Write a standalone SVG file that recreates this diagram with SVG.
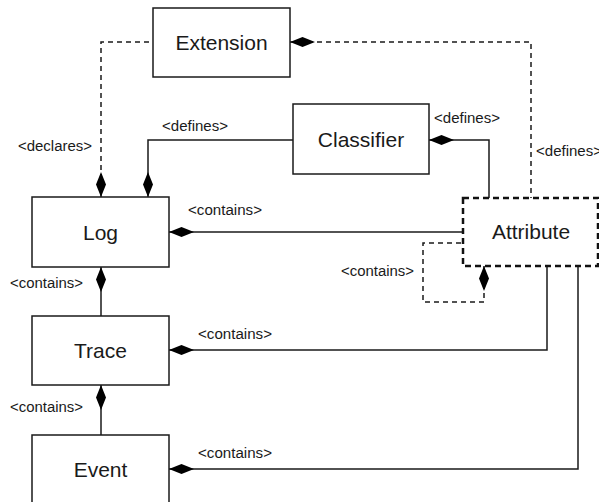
<svg xmlns="http://www.w3.org/2000/svg" width="599" height="502" viewBox="0 0 599 502">
  <style>
    .box { fill: #ffffff; stroke: #1a1a1a; stroke-width: 1.5; }
    .box-dashed { fill: #ffffff; stroke: #111111; stroke-width: 2.5; stroke-dasharray: 6 4; }
    .name { font-family: "Liberation Sans", Arial, sans-serif; font-size: 21px; fill: #1a1a1a; text-anchor: middle; }
    .lbl { font-family: "Liberation Sans", Arial, sans-serif; font-size: 14px; fill: #1a1a1a; }
    .link { fill: none; stroke: #1a1a1a; stroke-width: 1.5; }
    .dashed { stroke-dasharray: 5 4; }
  </style>
  <defs>
    <!-- filled composition diamond placed at the owning end of a connector -->
    <marker id="diamond" markerUnits="userSpaceOnUse" markerWidth="28" markerHeight="12" viewBox="0 -6 26 12" refX="0" refY="0" orient="auto">
      <path d="M0,0 L12.5,-5 L25,0 L12.5,5 Z" fill="#000000" stroke="none"/>
    </marker>
  </defs>

  <g id="connectors">
    <path class="link dashed" d="M101,197 V42 H153" marker-start="url(#diamond)"/>
    <path class="link" d="M148,197 V140 H293" marker-start="url(#diamond)"/>
    <path class="link dashed" d="M290,42 H531 V198" marker-start="url(#diamond)"/>
    <path class="link" d="M429,140 H489 V198" marker-start="url(#diamond)"/>
    <path class="link" d="M169,232 H463" marker-start="url(#diamond)"/>
    <path class="link dashed" d="M484,266 V302 H423 V243 H463" marker-start="url(#diamond)"/>
    <path class="link" d="M169,350 H547 V266" marker-start="url(#diamond)"/>
    <path class="link" d="M169,469 H578 V266" marker-start="url(#diamond)"/>
    <path class="link" d="M101,267 V316" marker-start="url(#diamond)"/>
    <path class="link" d="M101,385 V435" marker-start="url(#diamond)"/>

    <text class="lbl" x="18" y="151" textLength="74" lengthAdjust="spacingAndGlyphs">&lt;declares&gt;</text>
    <text class="lbl" x="162" y="131" textLength="66" lengthAdjust="spacingAndGlyphs">&lt;defines&gt;</text>
    <text class="lbl" x="434" y="123" textLength="66" lengthAdjust="spacingAndGlyphs">&lt;defines&gt;</text>
    <text class="lbl" x="536" y="156" textLength="66" lengthAdjust="spacingAndGlyphs">&lt;defines&gt;</text>
    <text class="lbl" x="188" y="215" textLength="74" lengthAdjust="spacingAndGlyphs">&lt;contains&gt;</text>
    <text class="lbl" x="10" y="288" textLength="73" lengthAdjust="spacingAndGlyphs">&lt;contains&gt;</text>
    <text class="lbl" x="341" y="276" textLength="73" lengthAdjust="spacingAndGlyphs">&lt;contains&gt;</text>
    <text class="lbl" x="198" y="339" textLength="74" lengthAdjust="spacingAndGlyphs">&lt;contains&gt;</text>
    <text class="lbl" x="10" y="412" textLength="73" lengthAdjust="spacingAndGlyphs">&lt;contains&gt;</text>
    <text class="lbl" x="198" y="458" textLength="74" lengthAdjust="spacingAndGlyphs">&lt;contains&gt;</text>
  </g>

  <g id="extension">
    <rect class="box" x="153" y="8" width="137" height="69"/>
    <text class="name" x="221.5" y="49.5">Extension</text>
  </g>
  <g id="classifier">
    <rect class="box" x="293" y="104" width="136" height="70"/>
    <text class="name" x="361" y="146.5">Classifier</text>
  </g>
  <g id="log">
    <rect class="box" x="32" y="197" width="137" height="70"/>
    <text class="name" x="100.5" y="239.5">Log</text>
  </g>
  <g id="attribute">
    <rect class="box-dashed" x="463" y="198" width="135" height="68"/>
    <text class="name" x="531" y="239">Attribute</text>
  </g>
  <g id="trace">
    <rect class="box" x="32" y="316" width="137" height="69"/>
    <text class="name" x="100.5" y="358">Trace</text>
  </g>
  <g id="event">
    <rect class="box" x="32" y="435" width="137" height="80"/>
    <text class="name" x="100.5" y="477">Event</text>
  </g>
</svg>
